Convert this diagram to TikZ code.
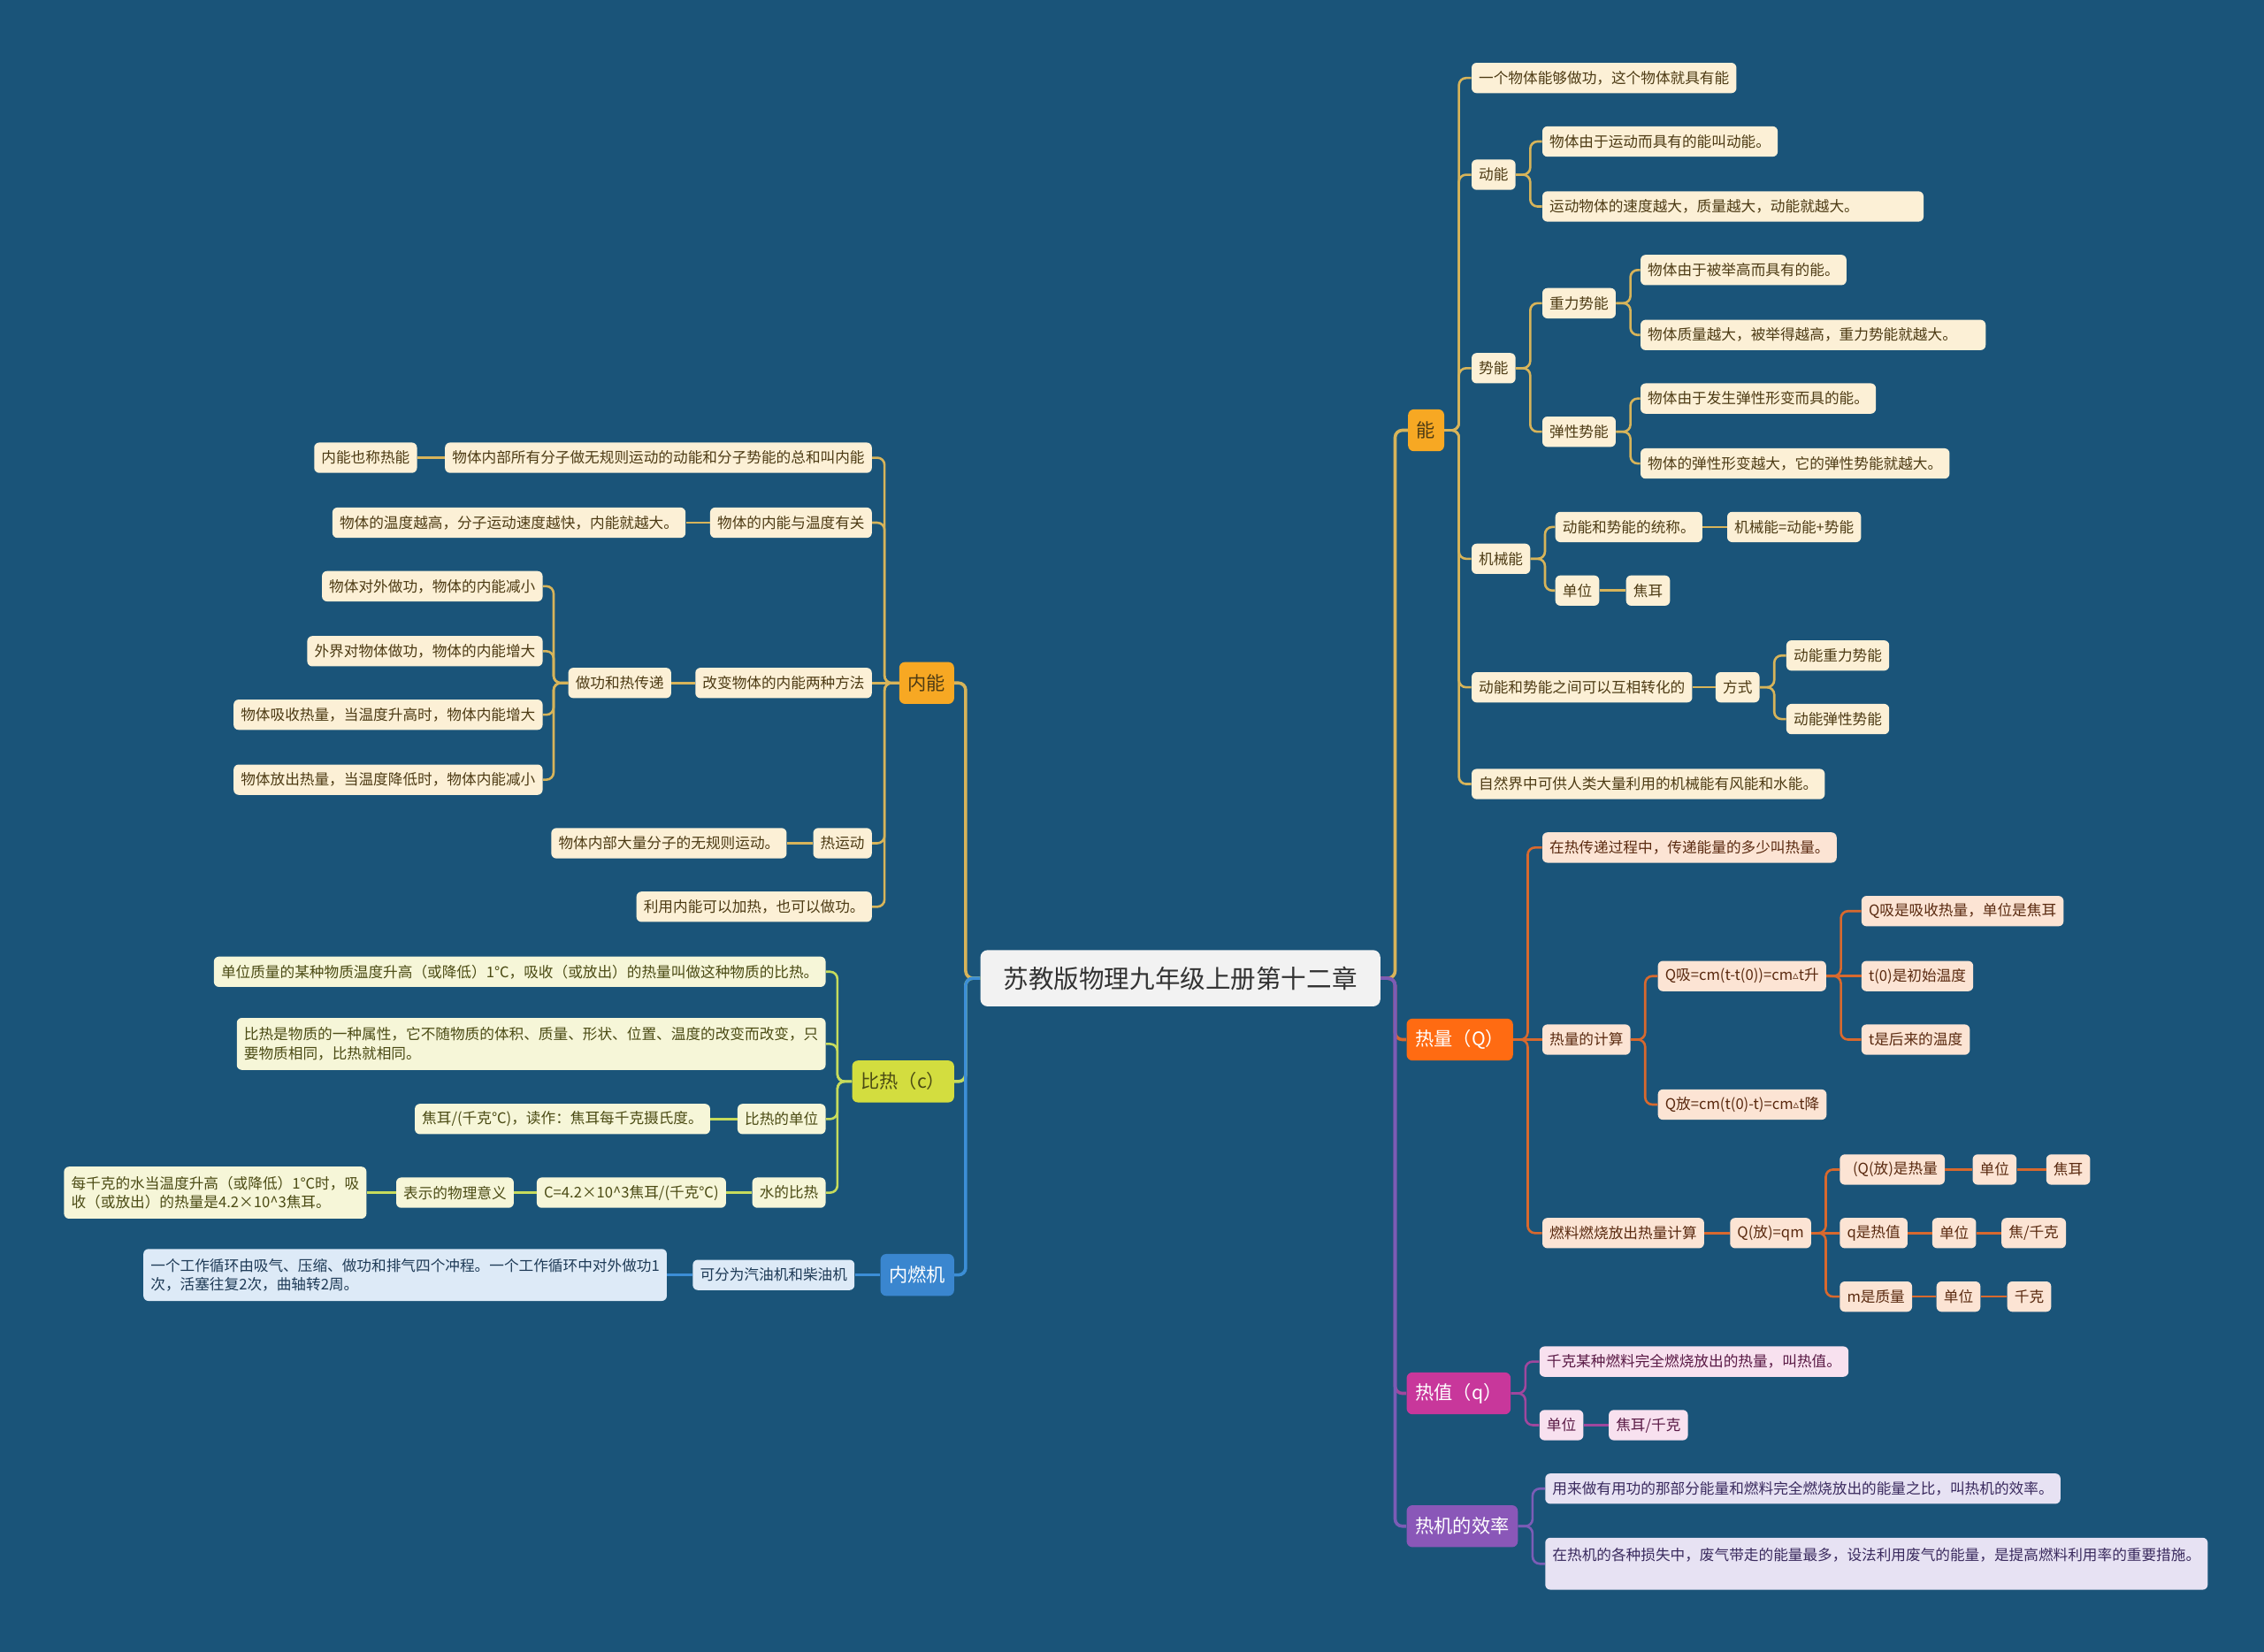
\documentclass[tikz,border=0pt]{standalone}
\usepackage{fontspec}
\newfontfamily\cjk{Noto Sans CJK SC}
\newfontfamily\symf{DejaVu Sans}
\newcommand{\dtri}{\raisebox{0.6pt}{\symf\fontsize{8}{8}\selectfont ▵}}
\definecolor{bgblue}{HTML}{1A5479}
\definecolor{rootfill}{HTML}{F2F2F2}
\definecolor{goldmain}{HTML}{F7A823}
\definecolor{goldline}{HTML}{D7B45A}
\definecolor{goldleaf}{HTML}{FCF0D6}
\definecolor{goldtext}{HTML}{4D3B14}
\definecolor{heatmain}{HTML}{FF6B12}
\definecolor{heatline}{HTML}{D8692E}
\definecolor{heatleaf}{HTML}{FCE4D4}
\definecolor{heattext}{HTML}{5A2A10}
\definecolor{valmain}{HTML}{C8379B}
\definecolor{valline}{HTML}{A0479E}
\definecolor{valleaf}{HTML}{F8E1EF}
\definecolor{valtext}{HTML}{5A1A45}
\definecolor{effmain}{HTML}{8A57B8}
\definecolor{effline}{HTML}{7B5CB6}
\definecolor{effleaf}{HTML}{E7E2F3}
\definecolor{efftext}{HTML}{3A2A5E}
\definecolor{bimain}{HTML}{D3DD3F}
\definecolor{biline}{HTML}{C6DB5C}
\definecolor{bileaf}{HTML}{F6F6D8}
\definecolor{bitext}{HTML}{4B4B14}
\definecolor{icemain}{HTML}{3A86CF}
\definecolor{iceline}{HTML}{3C8ED6}
\definecolor{iceleaf}{HTML}{DDEAF7}
\definecolor{icetext}{HTML}{1E3A56}

\begin{document}
\begin{tikzpicture}[x=1pt, y=-1pt,
        leaf/.style={rounded corners=3.5pt, inner xsep=5pt, inner ysep=3pt, minimum height=21pt, align=left, font=\cjk\fontsize{10.2}{13}\selectfont},
        two/.style={minimum height=36pt},
        mainnd/.style={rounded corners=4pt, inner xsep=6pt, minimum height=29pt, font=\cjk\fontsize{13}{16}\selectfont},
        gl/.style={leaf, fill=goldleaf, text=goldtext},
        hl/.style={leaf, fill=heatleaf, text=heattext},
        vl/.style={leaf, fill=valleaf, text=valtext},
        el/.style={leaf, fill=effleaf, text=efftext},
        bl/.style={leaf, fill=bileaf, text=bitext},
        il/.style={leaf, fill=iceleaf, text=icetext},
        rl/.style={rounded corners=5pt, line width=1.6pt, to path={-- ++(10,0) |- (\tikztotarget)}},
        ll/.style={rounded corners=5pt, line width=1.6pt, to path={-- ++(-10,0) |- (\tikztotarget)}},
        sl/.style={line width=1.6pt},
        trunk/.style={line width=2.2pt}]
                \fill[bgblue] (0,0) rectangle (1568,1144);
                \node[rounded corners=5pt, fill=rootfill, text=black!80, inner xsep=16pt, minimum height=39pt, font=\cjk\fontsize{17.5}{20}\selectfont] (root) at (817.5,677.5) {苏教版物理九年级上册第十二章};

                \node[mainnd, fill=goldmain, text=goldtext, anchor=west] (a) at (975,298) {能};
                \node[gl, anchor=west] (a1) at (1019,54) {一个物体能够做功，这个物体就具有能};
                \node[gl, anchor=west] (a2) at (1019,121) {动能};
                \node[gl, anchor=west] (a21) at (1068,98) {物体由于运动而具有的能叫动能。};
                \node[gl, text width=254pt, anchor=west] (a22) at (1068,143) {运动物体的速度越大，质量越大，动能就越大。};
                \node[gl, anchor=west] (a3) at (1019,255) {势能};
                \node[gl, anchor=west] (a31) at (1068,210) {重力势能};
                \node[gl, anchor=west] (a311) at (1136,187) {物体由于被举高而具有的能。};
                \node[gl, text width=229pt, anchor=west] (a312) at (1136,232) {物体质量越大，被举得越高，重力势能就越大。};
                \node[gl, anchor=west] (a32) at (1068,299) {弹性势能};
                \node[gl, anchor=west] (a321) at (1136,276) {物体由于发生弹性形变而具的能。};
                \node[gl, anchor=west] (a322) at (1136,321) {物体的弹性形变越大，它的弹性势能就越大。};
                \node[gl, anchor=west] (a4) at (1019,387) {机械能};
                \node[gl, anchor=west] (a41) at (1077,365) {动能和势能的统称。};
                \node[gl, anchor=west] (a411) at (1196,365) {机械能=动能+势能};
                \node[gl, anchor=west] (a42) at (1077,409) {单位};
                \node[gl, anchor=west] (a421) at (1126,409) {焦耳};
                \node[gl, anchor=west] (a5) at (1019,476) {动能和势能之间可以互相转化的};
                \node[gl, anchor=west] (a51) at (1188,476) {方式};
                \node[gl, anchor=west] (a511) at (1237,454) {动能重力势能};
                \node[gl, anchor=west] (a512) at (1237,498) {动能弹性势能};
                \node[gl, anchor=west] (a6) at (1019,543) {自然界中可供人类大量利用的机械能有风能和水能。};

                \node[mainnd, fill=heatmain, text=white, anchor=west] (b) at (974,720) {热量（Q）};
                \node[hl, anchor=west] (b1) at (1068,587) {在热传递过程中，传递能量的多少叫热量。};
                \node[hl, anchor=west] (b2) at (1068,720) {热量的计算};
                \node[hl, anchor=west] (b21) at (1148,676) {Q吸=cm(t-t(0))=cm\dtri t升};
                \node[hl, anchor=west] (b211) at (1289,631) {Q吸是吸收热量，单位是焦耳};
                \node[hl, anchor=west] (b212) at (1289,676) {t(0)是初始温度};
                \node[hl, anchor=west] (b213) at (1289,720) {t是后来的温度};
                \node[hl, anchor=west] (b22) at (1148,765) {Q放=cm(t(0)-t)=cm\dtri t降};
                \node[hl, anchor=west] (b3) at (1068,854) {燃料燃烧放出热量计算};
                \node[hl, anchor=west] (b31) at (1198,854) {Q(放)=qm};
                \node[hl, anchor=west] (b311) at (1274,810) {\hspace{4pt}(Q(放)是热量};
                \node[hl, anchor=west] (b3111) at (1366,810) {单位};
                \node[hl, anchor=west] (b3112) at (1417,810) {焦耳};
                \node[hl, anchor=west] (b312) at (1274,854) {q是热值};
                \node[hl, anchor=west] (b3121) at (1338,854) {单位};
                \node[hl, anchor=west] (b3122) at (1386,854) {焦/千克};
                \node[hl, anchor=west] (b313) at (1274,898) {m是质量};
                \node[hl, anchor=west] (b3131) at (1341,898) {单位};
                \node[hl, anchor=west] (b3132) at (1390,898) {千克};

                \node[mainnd, fill=valmain, text=white, anchor=west] (c) at (974,965) {热值（q）};
                \node[vl, anchor=west] (c1) at (1066,943) {千克某种燃料完全燃烧放出的热量，叫热值。};
                \node[vl, anchor=west] (c2) at (1066,987) {单位};
                \node[vl, anchor=west] (c21) at (1114,987) {焦耳/千克};

                \node[mainnd, fill=effmain, text=white, anchor=west] (d) at (974,1057) {热机的效率};
                \node[el, anchor=west] (d1) at (1070,1031) {用来做有用功的那部分能量和燃料完全燃烧放出的能量之比，叫热机的效率。};
                \node[el, two, anchor=west] (d2) at (1070,1083) {在热机的各种损失中，废气带走的能量最多，设法利用废气的能量，是提高燃料利用率的重要措施。\\ \mbox{}};

                \node[mainnd, fill=goldmain, text=goldtext, anchor=east] (l) at (661,473) {内能};
                \node[gl, anchor=east] (l1) at (604,317) {物体内部所有分子做无规则运动的动能和分子势能的总和叫内能};
                \node[gl, anchor=east] (l11) at (289,317) {内能也称热能};
                \node[gl, anchor=east] (l2) at (604,362) {物体的内能与温度有关};
                \node[gl, anchor=east] (l21) at (475,362) {物体的温度越高，分子运动速度越快，内能就越大。};
                \node[gl, anchor=east] (l3) at (604,473) {改变物体的内能两种方法};
                \node[gl, anchor=east] (l31) at (465,473) {做功和热传递};
                \node[gl, anchor=east] (l311) at (376,406) {物体对外做功，物体的内能减小};
                \node[gl, anchor=east] (l312) at (376,451) {外界对物体做功，物体的内能增大};
                \node[gl, anchor=east] (l313) at (376,495) {物体吸收热量，当温度升高时，物体内能增大};
                \node[gl, anchor=east] (l314) at (376,540) {物体放出热量，当温度降低时，物体内能减小};
                \node[gl, anchor=east] (l4) at (604,584) {热运动};
                \node[gl, anchor=east] (l41) at (545,584) {物体内部大量分子的无规则运动。};
                \node[gl, anchor=east] (l5) at (604,628) {利用内能可以加热，也可以做功。};

                \node[mainnd, fill=bimain, text=bitext, anchor=east] (m) at (661,749) {比热（c）};
                \node[bl, anchor=east] (m1) at (572,673) {单位质量的某种物质温度升高（或降低）1℃，吸收（或放出）的热量叫做这种物质的比热。};
                \node[bl, two, anchor=east] (m2) at (572,723) {比热是物质的一种属性，它不随物质的体积、质量、形状、位置、温度的改变而改变，只\\要物质相同，比热就相同。};
                \node[bl, anchor=east] (m3) at (572,775) {比热的单位};
                \node[bl, anchor=east] (m31) at (492,775) {焦耳/(千克℃)，读作：焦耳每千克摄氏度。};
                \node[bl, anchor=east] (m4) at (572,826) {水的比热};
                \node[bl, anchor=east] (m41) at (503,826) {C=4.2×10\^{}3焦耳/(千克℃)};
                \node[bl, anchor=east] (m411) at (356,826) {表示的物理意义};
                \node[bl, two, anchor=east] (m4111) at (254,826) {每千克的水当温度升高（或降低）1℃时，吸\\收（或放出）的热量是4.2×10\^{}3焦耳。};

                \node[mainnd, fill=icemain, text=white, anchor=east] (r) at (661,883) {内燃机};
                \node[il, anchor=east] (r1) at (592,883) {可分为汽油机和柴油机};
                \node[il, two, anchor=east] (r11) at (462,883) {一个工作循环由吸气、压缩、做功和排气四个冲程。一个工作循环中对外做功1\\次，活塞往复2次，曲轴转2周。};

                \draw[rl, trunk, goldline] (root.east) to (a.west);
                \draw[rl, trunk, heatline] (root.east) to (b.west);
                \draw[rl, trunk, valline] (root.east) to (c.west);
                \draw[rl, trunk, effline] (root.east) to (d.west);
                \draw[ll, trunk, goldline] (root.west) to (l.east);
                \draw[ll, trunk, biline] (root.west) to (m.east);
                \draw[ll, trunk, iceline] (root.west) to (r.east);

                \draw[rl, goldline] (a.east) to (a1.west);
                \draw[rl, goldline] (a.east) to (a2.west);
                \draw[rl, goldline] (a.east) to (a3.west);
                \draw[rl, goldline] (a.east) to (a4.west);
                \draw[rl, goldline] (a.east) to (a5.west);
                \draw[rl, goldline] (a.east) to (a6.west);
                \draw[rl, goldline] (a2.east) to (a21.west);
                \draw[rl, goldline] (a2.east) to (a22.west);
                \draw[rl, goldline] (a3.east) to (a31.west);
                \draw[rl, goldline] (a3.east) to (a32.west);
                \draw[rl, goldline] (a31.east) to (a311.west);
                \draw[rl, goldline] (a31.east) to (a312.west);
                \draw[rl, goldline] (a32.east) to (a321.west);
                \draw[rl, goldline] (a32.east) to (a322.west);
                \draw[rl, goldline] (a4.east) to (a41.west);
                \draw[rl, goldline] (a4.east) to (a42.west);
                \draw[sl, goldline] (a41.east) -- (a411.west);
                \draw[sl, goldline] (a42.east) -- (a421.west);
                \draw[sl, goldline] (a5.east) -- (a51.west);
                \draw[rl, goldline] (a51.east) to (a511.west);
                \draw[rl, goldline] (a51.east) to (a512.west);

                \draw[rl, heatline] (b.east) to (b1.west);
                \draw[sl, heatline] (b.east) -- (b2.west);
                \draw[rl, heatline] (b.east) to (b3.west);
                \draw[rl, heatline] (b2.east) to (b21.west);
                \draw[rl, heatline] (b2.east) to (b22.west);
                \draw[rl, heatline] (b21.east) to (b211.west);
                \draw[sl, heatline] (b21.east) -- (b212.west);
                \draw[rl, heatline] (b21.east) to (b213.west);
                \draw[sl, heatline] (b3.east) -- (b31.west);
                \draw[rl, heatline] (b31.east) to (b311.west);
                \draw[sl, heatline] (b31.east) -- (b312.west);
                \draw[rl, heatline] (b31.east) to (b313.west);
                \draw[sl, heatline] (b311.east) -- (b3111.west);
                \draw[sl, heatline] (b3111.east) -- (b3112.west);
                \draw[sl, heatline] (b312.east) -- (b3121.west);
                \draw[sl, heatline] (b3121.east) -- (b3122.west);
                \draw[sl, heatline] (b313.east) -- (b3131.west);
                \draw[sl, heatline] (b3131.east) -- (b3132.west);

                \draw[rl, valline] (c.east) to (c1.west);
                \draw[rl, valline] (c.east) to (c2.west);
                \draw[sl, valline] (c2.east) -- (c21.west);

                \draw[rl, effline] (d.east) to (d1.west);
                \draw[rl, effline] (d.east) to (d2.west);

                \draw[ll, goldline] (l.west) to (l1.east);
                \draw[ll, goldline] (l.west) to (l2.east);
                \draw[sl, goldline] (l.west) -- (l3.east);
                \draw[ll, goldline] (l.west) to (l4.east);
                \draw[ll, goldline] (l.west) to (l5.east);
                \draw[sl, goldline] (l1.west) -- (l11.east);
                \draw[sl, goldline] (l2.west) -- (l21.east);
                \draw[sl, goldline] (l3.west) -- (l31.east);
                \draw[ll, goldline] (l31.west) to (l311.east);
                \draw[ll, goldline] (l31.west) to (l312.east);
                \draw[ll, goldline] (l31.west) to (l313.east);
                \draw[ll, goldline] (l31.west) to (l314.east);
                \draw[sl, goldline] (l4.west) -- (l41.east);

                \draw[ll, biline] (m.west) to (m1.east);
                \draw[ll, biline] (m.west) to (m2.east);
                \draw[ll, biline] (m.west) to (m3.east);
                \draw[ll, biline] (m.west) to (m4.east);
                \draw[sl, biline] (m3.west) -- (m31.east);
                \draw[sl, biline] (m4.west) -- (m41.east);
                \draw[sl, biline] (m41.west) -- (m411.east);
                \draw[sl, biline] (m411.west) -- (m4111.east);

                \draw[sl, iceline] (r.west) -- (r1.east);
                \draw[sl, iceline] (r1.west) -- (r11.east);
            \end{tikzpicture}
\end{document}
